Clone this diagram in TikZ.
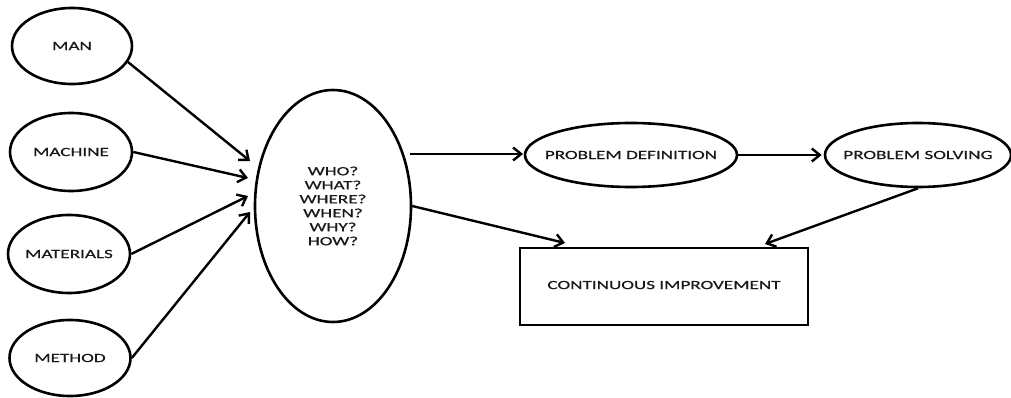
\documentclass[tikz,border=0pt]{standalone}
\usepackage{fontspec}
\setmainfont{Carlito}[FakeStretch=1.53,FakeBold=0.6]
\usetikzlibrary{arrows.meta,shapes.geometric}
\tikzset{
  oval/.style={draw, line width=2.6pt, ellipse, inner sep=-40pt, font=\fontsize{12.5}{14}\selectfont, text=black!90},
  boxnode/.style={draw, line width=2.6pt, rectangle, inner sep=0pt, font=\fontsize{12.5}{14}\selectfont, text=black!90},
  arr/.style={line width=2.4pt, -{Straight Barb[length=8pt,width=13pt,line width=2.4pt]}},
}
\begin{document}
\begin{tikzpicture}[x=1pt,y=-1pt]
\useasboundingbox (0,0) rectangle (1011,398);
\node[oval, minimum width=120pt, minimum height=76pt] (man) at (72,46) {MAN};
\node[oval, minimum width=122pt, minimum height=78pt] (machine) at (71,152) {MACHINE};
\node[oval, minimum width=122pt, minimum height=78pt] (materials) at (69,254) {MATERIALS};
\node[oval, minimum width=121pt, minimum height=76pt] (method) at (70,358) {METHOD};
\node[oval, minimum width=156pt, minimum height=232pt, align=center] (who) at (333,206)
  {WHO?\\WHAT?\\WHERE?\\WHEN?\\WHY?\\HOW?};
\node[oval, minimum width=212pt, minimum height=64pt] (pd) at (631,155) {PROBLEM DEFINITION};
\node[oval, minimum width=186pt, minimum height=64pt] (ps) at (918,155) {PROBLEM SOLVING};
\node[boxnode, minimum width=288pt, minimum height=77pt] (ci) at (664,286.5) {\raisebox{3pt}{CONTINUOUS IMPROVEMENT}};
\coordinate (t1) at (250,161);
\coordinate (t2) at (248,178);
\coordinate (t3) at (248,196);
\coordinate (t4) at (250,212);
\coordinate (s5) at (410,154);
\coordinate (t5) at (523,154);
\coordinate (t7) at (565,243);
\coordinate (t8) at (765,244);
\draw[arr] (man.-16) -- (t1);
\draw[arr] (machine.east) -- (t2);
\draw[arr] (materials.east) -- (t3);
\draw[arr] (method.east) -- (t4);
\draw[arr] (s5) -- (t5);
\draw[arr] (pd.east) -- ([xshift=-2pt]ps.west);
\draw[arr] (who.east) -- (t7);
\draw[arr] (ps.south) -- (t8);
\end{tikzpicture}
\end{document}
